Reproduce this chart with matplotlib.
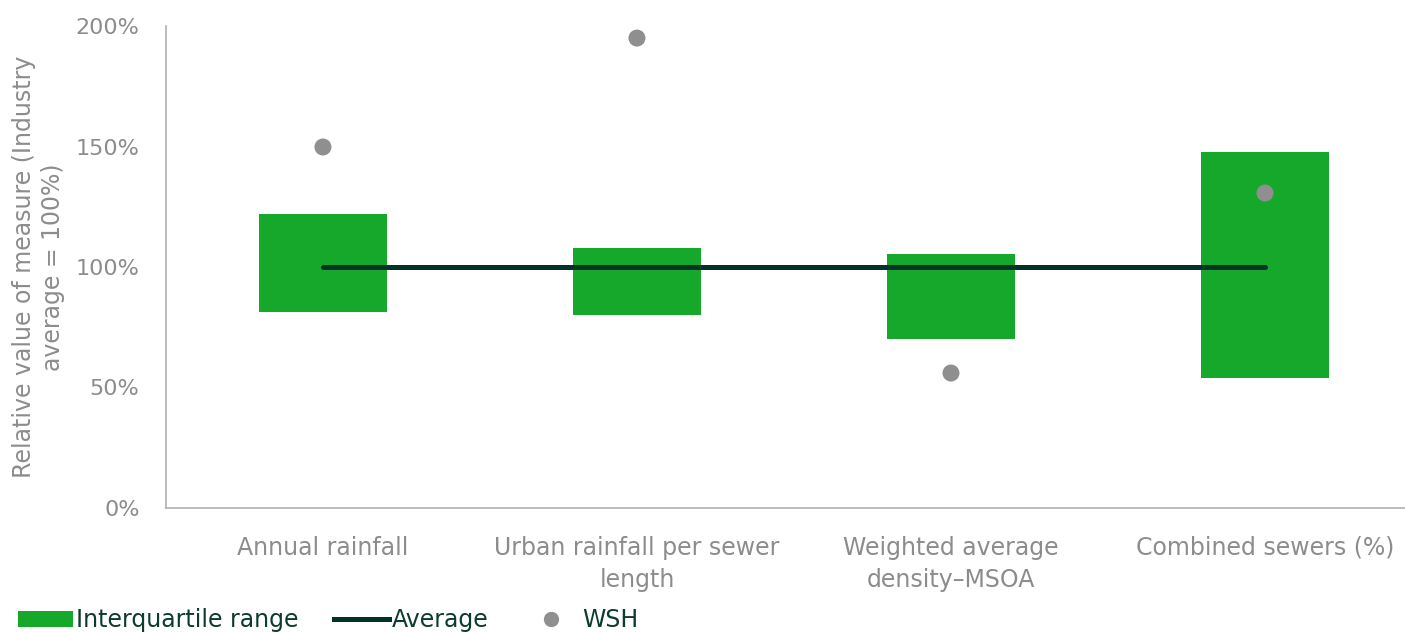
import matplotlib
matplotlib.use("Agg")
import matplotlib.pyplot as plt
from matplotlib.patches import Patch
from matplotlib.lines import Line2D

# Measures and their values relative to the industry average (%)
categories = ["Annual rainfall", "Urban rainfall per sewer\nlength",
              "Weighted average\ndensity\u2013MSOA", "Combined sewers (%)"]
iqr_low = [81.3, 80.1, 70.1, 53.9]
iqr_high = [122.0, 107.9, 105.4, 147.7]
average = [100, 100, 100, 100]
wsh = [149.8, 195.0, 56.0, 130.7]
yticks = [0, 50, 100, 150, 200]

GREEN = "#15a82a"
DARK = "#02332b"
GREY = "#8f8f8f"
TEXT = "#8c8c8c"

plt.rcParams["font.family"] = ["DejaVu Sans"]

fig = plt.figure(figsize=(14.05, 6.33), dpi=100)
ax = fig.add_axes([0.1181, 0.1975, 0.894, 0.7614])

x = list(range(len(categories)))
heights = [h - l for l, h in zip(iqr_low, iqr_high)]
ax.bar(x, heights, bottom=iqr_low, width=0.405, color=GREEN, zorder=2)
ax.plot(x, average, color=DARK, lw=3.6, solid_capstyle="round", zorder=3)
ax.scatter(x, wsh, s=150, color=GREY, edgecolors="none", zorder=4)

ax.set_xlim(-0.5, 3.5)
ax.set_ylim(0, 200)
ax.set_yticks(yticks)
ax.set_yticklabels([f"{v}%" for v in yticks])
ax.set_xticks(x)
ax.set_xticklabels(categories, linespacing=1.45)

for side in ("top", "right"):
    ax.spines[side].set_visible(False)
for side in ("left", "bottom"):
    ax.spines[side].set_color("#b0b0b0")
    ax.spines[side].set_linewidth(1.2)
ax.tick_params(axis="both", length=0, colors=TEXT)
ax.tick_params(axis="y", pad=19, labelsize=16)
ax.tick_params(axis="x", pad=20, labelsize=17)

ax.set_ylabel("Relative value of measure (Industry\naverage = 100%)",
              fontsize=17, color=TEXT, linespacing=1.25, labelpad=8)

handles = [
    Patch(facecolor=GREEN, edgecolor="none"),
    Line2D([0], [0], color=DARK, lw=3.6),
    Line2D([0], [0], marker="o", color="none", markerfacecolor=GREY,
           markeredgecolor="none", markersize=11),
]
leg = fig.legend(handles, ["Interquartile range", "Average", "WSH"],
                 loc="lower left", bbox_to_anchor=(-0.002, -0.032), ncol=3,
                 frameon=False, fontsize=17, handlelength=2.3,
                 handleheight=0.65, handletextpad=0.15, columnspacing=1.5)
for t in leg.get_texts():
    t.set_color("#0d3b30")

fig.savefig("out.png", dpi=100)
